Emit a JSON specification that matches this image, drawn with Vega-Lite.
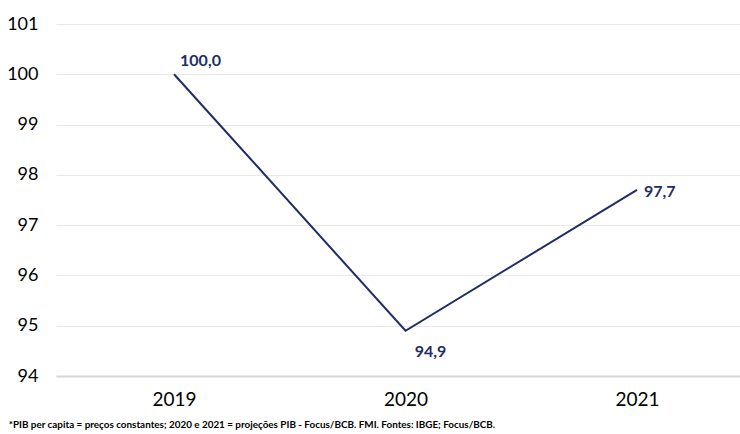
{
  "$schema": "https://vega.github.io/schema/vega-lite/v6.json",
  "width": 684,
  "height": 352,
  "autosize": "none",
  "padding": {"left": 56, "top": 24, "right": 0, "bottom": 58},
  "background": "white",
  "config": {
    "font": "Lato",
    "view": {"stroke": null},
    "locale": {"number": {"decimal": ",", "thousands": ".", "grouping": [3], "currency": ["R$", ""]}}
  },
  "title": {
    "text": "*PIB per capita = preços constantes; 2020 e 2021 = projeções PIB - Focus/BCB. FMI. Fontes: IBGE; Focus/BCB.",
    "orient": "bottom",
    "anchor": "start",
    "dx": 2,
    "offset": 11,
    "fontSize": 9.9,
    "fontWeight": "bold",
    "color": "#000000",
    "font": "Lato"
  },
  "data": {
    "values": [
      {"ano": 2019, "indice": 100.0},
      {"ano": 2020, "indice": 94.9},
      {"ano": 2021, "indice": 97.7}
    ]
  },
  "encoding": {
    "x": {
      "field": "ano",
      "type": "quantitative",
      "scale": {"domain": [2018.49, 2021.445], "nice": false, "zero": false},
      "axis": {
        "values": [2019, 2020, 2021],
        "format": "d",
        "title": null,
        "grid": false,
        "ticks": false,
        "domain": true,
        "domainColor": "#d4d4d4",
        "domainWidth": 2,
        "labelFontSize": 19,
        "labelColor": "#000000",
        "labelPadding": 14
      }
    },
    "y": {
      "field": "indice",
      "type": "quantitative",
      "scale": {"domain": [94, 101], "nice": false, "zero": false},
      "axis": {
        "values": [94, 95, 96, 97, 98, 99, 100, 101],
        "format": "d",
        "title": null,
        "grid": true,
        "gridColor": "#e8e8e8",
        "gridWidth": 1,
        "ticks": false,
        "domain": false,
        "labelFontSize": 18,
        "labelColor": "#000000",
        "labelPadding": 18
      }
    }
  },
  "layer": [
    {
      "mark": {"type": "line", "color": "#1f2d66", "strokeWidth": 2}
    },
    {
      "transform": [{"filter": "datum.ano == 2019"}],
      "mark": {"type": "text", "align": "left", "baseline": "middle", "dx": 6, "dy": -13, "fontSize": 16, "fontWeight": "bold", "color": "#1f2d66"},
      "encoding": {"text": {"field": "indice", "type": "quantitative", "format": ".1f"}}
    },
    {
      "transform": [{"filter": "datum.ano == 2020"}],
      "mark": {"type": "text", "align": "center", "baseline": "middle", "dx": 25, "dy": 21, "fontSize": 16, "fontWeight": "bold", "color": "#1f2d66"},
      "encoding": {"text": {"field": "indice", "type": "quantitative", "format": ".1f"}}
    },
    {
      "transform": [{"filter": "datum.ano == 2021"}],
      "mark": {"type": "text", "align": "left", "baseline": "middle", "dx": 7, "dy": 2, "fontSize": 16, "fontWeight": "bold", "color": "#1f2d66"},
      "encoding": {"text": {"field": "indice", "type": "quantitative", "format": ".1f"}}
    }
  ]
}
